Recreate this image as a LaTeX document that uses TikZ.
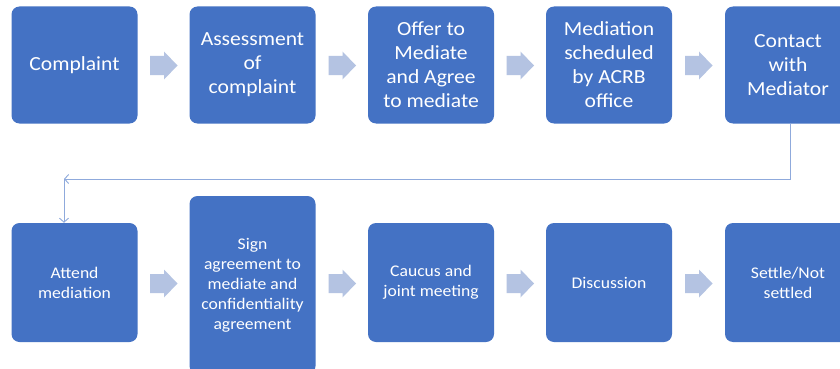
\documentclass[tikz,border=0pt]{standalone}
\usepackage{fontspec}
\setmainfont{Carlito}
\newfontfamily\boxfont[FakeStretch=1.08]{Carlito}
\usetikzlibrary{arrows.meta}
\definecolor{boxc}{HTML}{4472C4}
\definecolor{arrc}{HTML}{B4C3E2}
\definecolor{connc}{HTML}{8FAADC}
\tikzset{
  stepbox/.style={rectangle, rounded corners=8pt, fill=boxc, text=white,
    minimum width=126pt, minimum height=117pt, align=center, inner sep=2pt},
  topfont/.style={font=\boxfont\fontsize{20}{24}\selectfont},
  botfont/.style={font=\boxfont\fontsize{16.3}{20}\selectfont},
  blockarrow/.pic={\fill[arrc] (-13.5,-9.5) -- (0.5,-9.5) -- (0.5,-14) -- (14,0)
     -- (0.5,14) -- (0.5,9.5) -- (-13.5,9.5) -- cycle;},
  conn/.style={draw=connc, line width=0.9pt},
  tip/.style={-{Straight Barb[length=4pt,width=9pt]}}
}
\begin{document}
\begin{tikzpicture}[x=1pt,y=-1pt]
\clip (0,0) rectangle (840,369);
\fill[white] (0,0) rectangle (840,369);
% top row
\node[stepbox,topfont] (b1) at (74.5,65) {Complaint};
\node[stepbox,topfont] (b2) at (252.5,65) {Assessment\\of\\complaint};
\node[stepbox,topfont] (b3) at (431,65) {Offer to\\Mediate\\and Agree\\to mediate};
\node[stepbox,topfont] (b4) at (609,65) {Mediation\\scheduled\\by ACRB\\office};
\node[stepbox,topfont] (b5) at (788,65) {Contact\\with\\Mediator};
% bottom row
\node[stepbox,botfont,minimum height=119pt] (b6) at (74.5,282.5) {Attend\\mediation};
\node[stepbox,botfont,minimum height=178pt] (b7) at (252.5,285) {Sign\\agreement to\\mediate and\\confidentiality\\agreement};
\node[stepbox,botfont,minimum height=119pt] (b8) at (431,282.5) {Caucus and\\joint meeting};
\node[stepbox,botfont,minimum height=119pt] (b9) at (609,282.5) {Discussion};
\node[stepbox,botfont,minimum height=119pt] (b10) at (788,282.5) {Settle/Not\\settled};
% block arrows
\pic at (163.5,65.5) {blockarrow};
\pic at (342,65.5) {blockarrow};
\pic at (520,65.5) {blockarrow};
\pic at (698.5,65.5) {blockarrow};
\pic at (163.5,283.5) {blockarrow};
\pic at (342,283.5) {blockarrow};
\pic at (520,283.5) {blockarrow};
\pic at (698.5,283.5) {blockarrow};
% elbow connector
\coordinate (turn) at (64,179);
\coordinate (drop) at ([xshift=2pt]b5.south);
\draw[conn,tip] (drop) |- (turn);
\draw[conn,tip] (turn) -- (turn |- b6.north);
\end{tikzpicture}
\end{document}
